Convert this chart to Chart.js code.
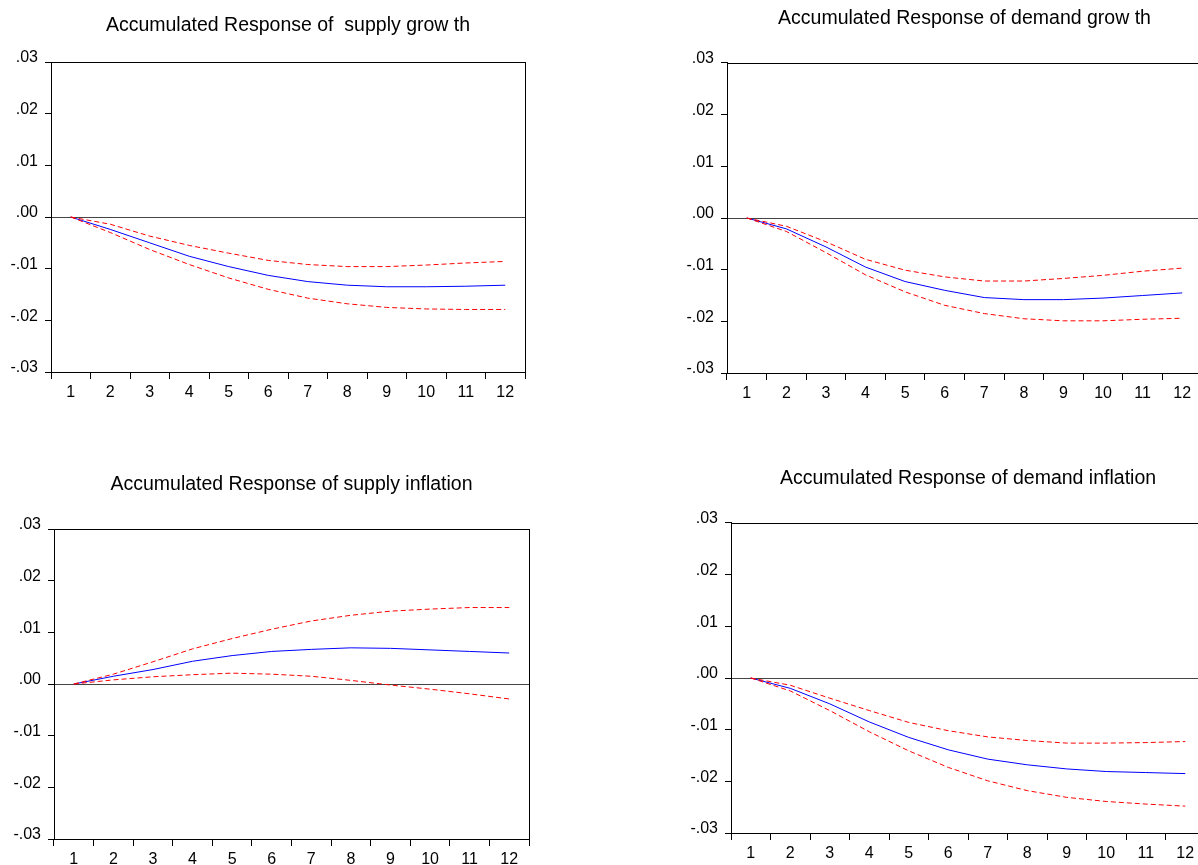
<!DOCTYPE html>
<html>
<head>
<meta charset="utf-8">
<script src="https://cdn.jsdelivr.net/npm/chart.js@4.4.1/dist/chart.umd.min.js"></script>
<style>
  html, body { margin: 0; padding: 0; background: #fff; overflow: hidden; }
  body { width: 1198px; height: 865px; position: relative; }
  canvas { position: absolute; }
</style>
</head>
<body>
<canvas id="g1" width="560" height="420" style="left:0px;top:0px"></canvas>
<canvas id="g2" width="580" height="420" style="left:660px;top:0px"></canvas>
<canvas id="g3" width="560" height="420" style="left:0px;top:460px"></canvas>
<canvas id="g4" width="580" height="420" style="left:660px;top:460px"></canvas>
<script>
// ======== DADOS ========
const periodos = ["1", "2", "3", "4", "5", "6", "7", "8", "9", "10", "11", "12"];
const yTickValues = [-0.03, -0.02, -0.01, 0, 0.01, 0.02, 0.03];
const yTickLabels = ["-.03", "-.02", "-.01", ".00", ".01", ".02", ".03"];

const titulos = [
    "Accumulated Response of  supply grow th",
    "Accumulated Response of demand grow th",
    "Accumulated Response of supply inflation",
    "Accumulated Response of demand inflation"
];

// supply growth
const supplyGrowth      = [0, -0.0024, -0.0050, -0.0076, -0.0096, -0.0113, -0.0125, -0.0132, -0.0135, -0.0135, -0.0134, -0.0132];
const supplyGrowthUpper = [0, -0.0014, -0.0037, -0.0055, -0.0070, -0.0084, -0.0092, -0.0096, -0.0096, -0.0093, -0.0089, -0.0086];
const supplyGrowthLower = [0, -0.0030, -0.0063, -0.0092, -0.0118, -0.0140, -0.0157, -0.0168, -0.0175, -0.0178, -0.0179, -0.0179];

// demand growth
const demandGrowth      = [0, -0.0021, -0.0056, -0.0095, -0.0123, -0.0140, -0.0154, -0.0158, -0.0158, -0.0155, -0.0150, -0.0145];
const demandGrowthUpper = [0, -0.0016, -0.0046, -0.0080, -0.0101, -0.0114, -0.0122, -0.0122, -0.0117, -0.0111, -0.0103, -0.0097];
const demandGrowthLower = [0, -0.0026, -0.0067, -0.0110, -0.0143, -0.0169, -0.0185, -0.0195, -0.0199, -0.0199, -0.0196, -0.0194];

// supply inflation
const supplyInfl      = [0, 0.0015, 0.0028, 0.0044, 0.0055, 0.0063, 0.0067, 0.0070, 0.0069, 0.0066, 0.0063, 0.0060];
const supplyInflUpper = [0, 0.0019, 0.0043, 0.0068, 0.0088, 0.0106, 0.0122, 0.0133, 0.0141, 0.0145, 0.0148, 0.0148];
const supplyInflLower = [0, 0.0008, 0.0014, 0.0018, 0.0021, 0.0019, 0.0015, 0.0007, -0.0002, -0.0010, -0.0019, -0.0029];

// demand inflation
const demandInfl      = [0, -0.0020, -0.0050, -0.0085, -0.0115, -0.0139, -0.0157, -0.0168, -0.0176, -0.0181, -0.0183, -0.0185];
const demandInflUpper = [0, -0.0014, -0.0039, -0.0063, -0.0086, -0.0102, -0.0114, -0.0121, -0.0126, -0.0126, -0.0125, -0.0123];
const demandInflLower = [0, -0.0025, -0.0063, -0.0104, -0.0141, -0.0173, -0.0199, -0.0218, -0.0231, -0.0239, -0.0244, -0.0248];

// ======== LAYOUT DOS PAINEIS ========
const fonte = "'Liberation Sans', Arial, Helvetica, sans-serif";
const paineis = [
    { id: "g1", w: 560, h: 420, area: { l: 51, t: 62, r: 525, b: 372 }, tituloY: 26,
      serie: supplyGrowth, sup: supplyGrowthUpper, inf: supplyGrowthLower },
    { id: "g2", w: 580, h: 420, area: { l: 67, t: 63, r: 542, b: 373 }, tituloY: 19,
      serie: demandGrowth, sup: demandGrowthUpper, inf: demandGrowthLower },
    { id: "g3", w: 560, h: 420, area: { l: 54, t: 69, r: 529, b: 379 }, tituloY: 25,
      serie: supplyInfl, sup: supplyInflUpper, inf: supplyInflLower },
    { id: "g4", w: 580, h: 420, area: { l: 71, t: 63, r: 545, b: 373 }, tituloY: 19,
      serie: demandInfl, sup: demandInflUpper, inf: demandInflLower }
];

// moldura do grafico (topo e direita)
const moldura = {
    id: "moldura",
    afterDraw(chart) {
        const { ctx, chartArea: a } = chart;
        ctx.save();
        ctx.strokeStyle = "#000";
        ctx.lineWidth = 1;
        ctx.strokeRect(Math.round(a.left) + 0.5, Math.round(a.top) + 0.5,
            Math.round(a.right - a.left), Math.round(a.bottom - a.top));
        ctx.restore();
    }
};

// ======== GERA GRAFICOS ========
function gerarGrafico(p, titulo) {
    const ctx = document.getElementById(p.id).getContext("2d");
    const tamTitulo = 19.5, lh = tamTitulo * 1.2;
    const tracejado = { borderColor: "#ff0000", borderWidth: 1, borderDash: [5, 3], pointRadius: 0, tension: 0, fill: false };

    return new Chart(ctx, {
        type: "line",
        data: {
            labels: periodos,
            datasets: [
                { data: p.sup, ...tracejado },
                { data: p.inf, ...tracejado },
                { data: p.serie, borderColor: "#0000ff", borderWidth: 1, pointRadius: 0, tension: 0, fill: false }
            ]
        },
        options: {
            responsive: false,
            animation: false,
            devicePixelRatio: 1,
            layout: { padding: { left: 0, top: 0, bottom: 0, right: p.w - p.area.r } },
            scales: {
                x: {
                    type: "category",
                    offset: true,
                    grid: { offset: true, drawOnChartArea: false, drawTicks: true, tickLength: 7, tickColor: "#000" },
                    border: { color: "#000", width: 1 },
                    ticks: { color: "#000", font: { family: fonte, size: 16 }, padding: 4, maxRotation: 0, autoSkip: false },
                    afterFit: s => { s.height = p.h - p.area.b; }
                },
                y: {
                    min: -0.03,
                    max: 0.03,
                    afterBuildTicks: s => { s.ticks = yTickValues.map(v => ({ value: v })); },
                    grid: {
                        drawOnChartArea: true,
                        color: c => (c.tick && Math.abs(c.tick.value) < 1e-9) ? "#444" : "rgba(0,0,0,0)",
                        tickColor: "#000",
                        tickLength: 6
                    },
                    border: { color: "#000", width: 1 },
                    ticks: {
                        color: "#000",
                        font: { family: fonte, size: 16 },
                        padding: 7,
                        labelOffset: -4,
                        callback: v => yTickLabels[yTickValues.findIndex(t => Math.abs(t - v) < 1e-9)]
                    },
                    afterFit: s => { s.width = p.area.l; }
                }
            },
            plugins: {
                legend: { display: false },
                tooltip: { enabled: false },
                title: {
                    display: true,
                    text: titulo,
                    fullSize: false,
                    color: "#000",
                    font: { family: fonte, size: tamTitulo, weight: "normal", lineHeight: 1.2 },
                    padding: { top: p.tituloY - lh / 2, bottom: p.area.t - p.tituloY - lh / 2 }
                }
            }
        },
        plugins: [moldura]
    });
}

paineis.forEach((p, i) => gerarGrafico(p, titulos[i]));
</script>
</body>
</html>
